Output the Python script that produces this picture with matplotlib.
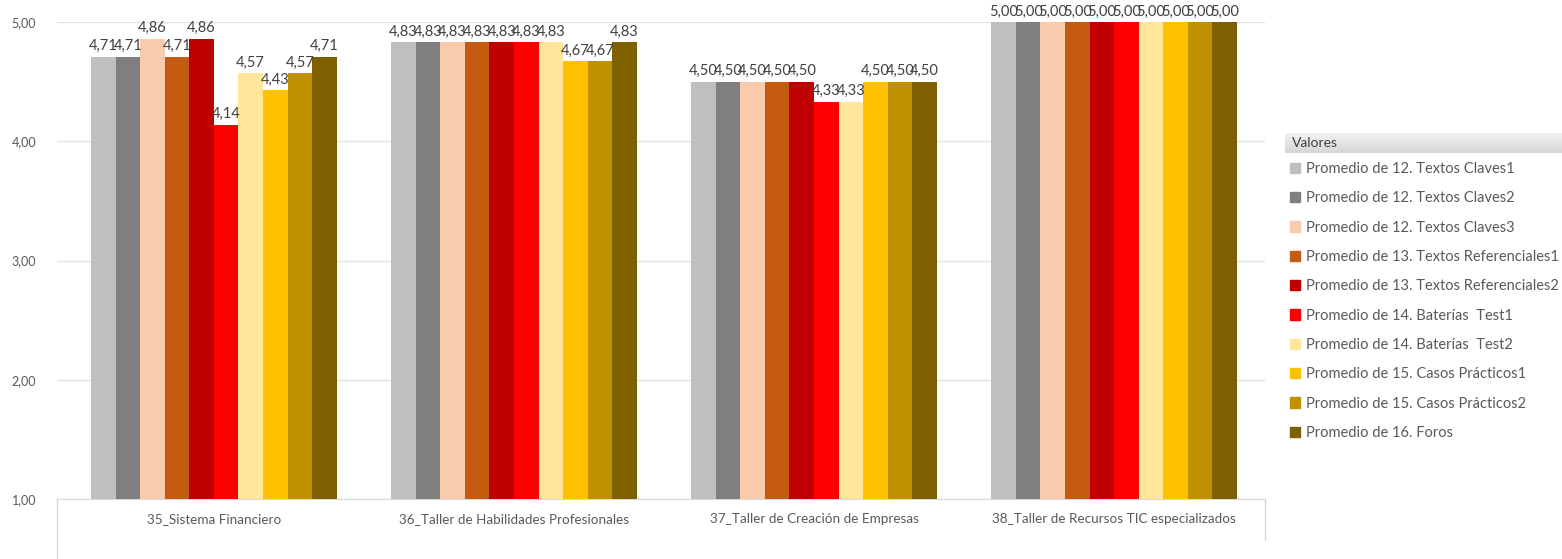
import matplotlib.pyplot as plt
import numpy as np
from matplotlib.patches import Patch

plt.rcParams['font.family'] = ['Lato', 'DejaVu Sans']

# Datos del gráfico
cursos = ['35_Sistema Financiero', '36_Taller de Habilidades Profesionales',
          '37_Taller de Creación de Empresas', '38_Taller de Recursos TIC especializados']
series = ['Promedio de 12. Textos Claves1', 'Promedio de 12. Textos Claves2',
          'Promedio de 12. Textos Claves3', 'Promedio de 13. Textos Referenciales1',
          'Promedio de 13. Textos Referenciales2', 'Promedio de 14. Baterías  Test1',
          'Promedio de 14. Baterías  Test2', 'Promedio de 15. Casos Prácticos1',
          'Promedio de 15. Casos Prácticos2', 'Promedio de 16. Foros']
valores_35 = [4.71, 4.71, 4.86, 4.71, 4.86, 4.14, 4.57, 4.43, 4.57, 4.71]
valores_36 = [4.83, 4.83, 4.83, 4.83, 4.83, 4.83, 4.83, 4.67, 4.67, 4.83]
valores_37 = [4.50, 4.50, 4.50, 4.50, 4.50, 4.33, 4.33, 4.50, 4.50, 4.50]
valores_38 = [5.00, 5.00, 5.00, 5.00, 5.00, 5.00, 5.00, 5.00, 5.00, 5.00]
colores = ['#BFBFBF', '#7F7F7F', '#F8CBAD', '#C55A11', '#C00000',
           '#FF0000', '#FFE699', '#FFC000', '#BF9000', '#7F6000']
yticks = [1, 2, 3, 4, 5]

datos = np.array([valores_35, valores_36, valores_37, valores_38])

W, H = 1562, 559
fig = plt.figure(figsize=(W / 100, H / 100), dpi=100)
ax = fig.add_axes([57 / W, 1 - 499 / H, (1265 - 57) / W, (499 - 22) / H])

texto = '#595959'
x = np.arange(len(cursos))
ancho = 0.0818
n = len(series)
for i in range(n):
    pos = x + (i - (n - 1) / 2) * ancho
    ax.bar(pos, datos[:, i] - 1, bottom=1, width=ancho, color=colores[i],
           label=series[i], zorder=3)
    for xi, v in zip(pos, datos[:, i]):
        ax.text(xi, v + 0.03, f'{v:.2f}'.replace('.', ','), ha='center', va='bottom',
                fontsize=10.5, color='#404040', zorder=4, clip_on=False)

ax.set_xlim(-0.523, 3.503)
ax.set_ylim(1, 5)
ax.set_yticks(yticks)
ax.set_yticklabels([f'{t:.2f}'.replace('.', ',') for t in yticks], fontsize=9, color=texto)
ax.tick_params(axis='y', length=0, pad=15)
ax.grid(axis='y', color='#E3E3E3', linewidth=1, zorder=0)
ax.set_xticks([])
for s in ['top', 'right', 'left']:
    ax.spines[s].set_visible(False)
ax.spines['bottom'].set_color('#D9D9D9')

# Caja de etiquetas de categoría
for c, xi in zip(cursos, x):
    ax.text(xi, 0.83, c, ha='center', va='center', fontsize=9.7, color=texto, clip_on=False)
fig.add_artist(plt.Line2D([57 / W, 57 / W], [1 - 499 / H, 0], color='#D9D9D9', lw=1))
fig.add_artist(plt.Line2D([1265 / W, 1265 / W], [1 - 499 / H, 1 - 540 / H], color='#D9D9D9', lw=1))

# Encabezado de la leyenda
cab = fig.add_axes([1285 / W, 1 - 153 / H, (W - 1285) / W, 20 / H])
grad = np.linspace(0, 1, 50).reshape(-1, 1)
cab.imshow(grad, aspect='auto', cmap=plt.matplotlib.colors.LinearSegmentedColormap.from_list(
    'g', ['#F2F2F2', '#D6D6D6']), extent=[0, 1, 0, 1])
cab.axis('off')
cab.text(0.025, 0.5, 'Valores', va='center', ha='left', fontsize=10, color='#404040')

handles = [Patch(color=c) for c in colores]
fig.legend(handles, series, loc='upper left', bbox_to_anchor=(1290 / W, 1 - 162 / H),
           frameon=False, fontsize=10.5, labelcolor=texto, handlelength=0.7, handleheight=0.7,
           handletextpad=0.4, labelspacing=1.05, borderaxespad=0, borderpad=0)

plt.savefig('out.png', dpi=100)
